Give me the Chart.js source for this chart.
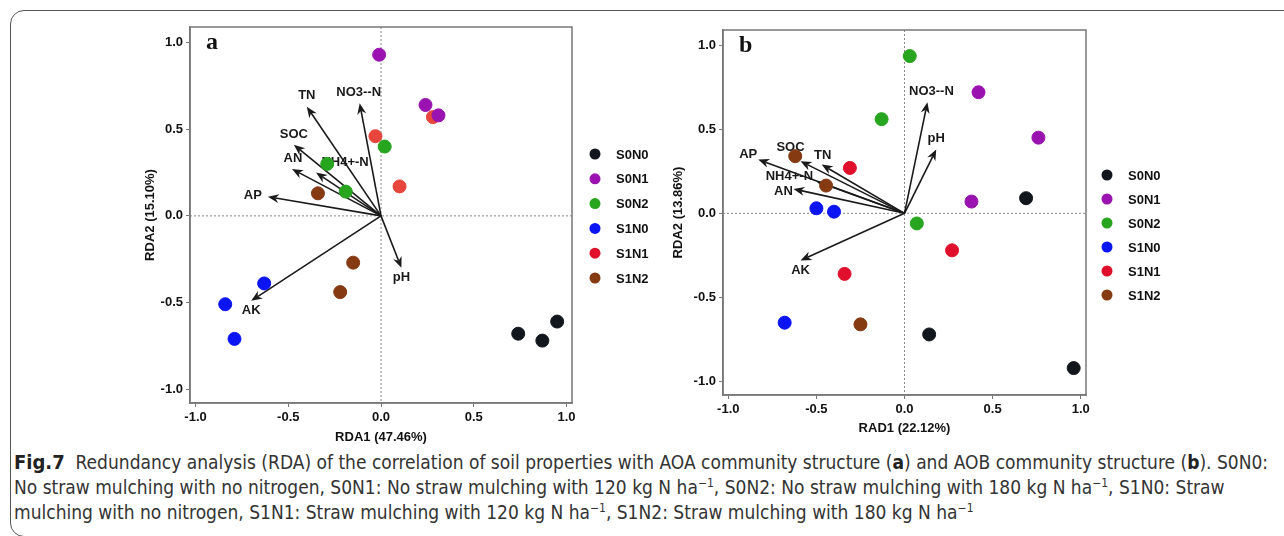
<!DOCTYPE html>
<html>
<head>
<meta charset="utf-8">
<script src="https://cdn.jsdelivr.net/npm/chart.js@4.4.1/dist/chart.umd.min.js"></script>
<style>
  body { margin: 0; background: #fff; width: 1284px; height: 536px; overflow: hidden; position: relative; font-family: "Liberation Sans", Arial, sans-serif; }
  #frame { position: absolute; left: 10px; top: 10px; width: 1300px; height: 527px; border: 1.5px solid #555; border-radius: 14px; box-sizing: border-box; }
  .cv { position: absolute; }
  #caption { position: absolute; left: 14px; top: 450px; font-family: "Liberation Sans Narrow", "DejaVu Sans Condensed", sans-serif; font-size: 19px; line-height: 25px; color: #333; white-space: nowrap; }
  #caption b { color: #222; }
  #caption sup { font-size: 12px; line-height: 0; }
</style>
</head>
<body>
<div id="frame"></div>
<canvas id="chartA" class="cv" style="left:130px;top:15px" width="560" height="430"></canvas>
<canvas id="chartB" class="cv" style="left:660px;top:15px" width="624" height="430"></canvas>
<div id="caption">
  <div><b style="font-size:20px">Fig.7</b>&nbsp; Redundancy analysis (RDA) of the correlation of soil properties with AOA community structure (<b>a</b>) and AOB community structure (<b>b</b>). S0N0:</div>
  <div>No straw mulching with no nitrogen, S0N1: No straw mulching with 120 kg N ha<sup>&minus;1</sup>, S0N2: No straw mulching with 180 kg N ha<sup>&minus;1</sup>, S1N0: Straw</div>
  <div>mulching with no nitrogen, S1N1: Straw mulching with 120 kg N ha<sup>&minus;1</sup>, S1N2: Straw mulching with 180 kg N ha<sup>&minus;1</sup></div>
</div>
<script>
const groups = ['S0N0', 'S0N1', 'S0N2', 'S1N0', 'S1N1', 'S1N2'];
const axisTicks = [-1, -0.5, 0, 0.5, 1];

// panel a (AOA) sample scores, one row per group
const aSiteX = [
  [0.74, 0.87, 0.95],
  [-0.01, 0.24, 0.31],
  [0.02, -0.29, -0.19],
  [-0.63, -0.84, -0.79],
  [-0.03, 0.28, 0.10],
  [-0.34, -0.15, -0.22]
];
const aSiteY = [
  [-0.68, -0.72, -0.61],
  [0.93, 0.64, 0.58],
  [0.40, 0.30, 0.14],
  [-0.39, -0.51, -0.71],
  [0.46, 0.57, 0.17],
  [0.13, -0.27, -0.44]
];
const aVarNames = ['TN', 'NO3--N', 'SOC', 'AN', 'NH4+-N', 'AP', 'AK', 'pH'];
const aVarX = [-0.40, -0.115, -0.47, -0.48, -0.35, -0.61, -0.70, 0.11];
const aVarY = [0.63, 0.65, 0.41, 0.27, 0.25, 0.11, -0.49, -0.30];

// panel b (AOB) sample scores
const bSiteX = [
  [0.69, 0.14, 0.96],
  [0.42, 0.76, 0.38],
  [0.03, -0.13, 0.07],
  [-0.50, -0.40, -0.68],
  [-0.31, 0.27, -0.34],
  [-0.62, -0.445, -0.25]
];
const bSiteY = [
  [0.09, -0.72, -0.92],
  [0.72, 0.45, 0.07],
  [0.935, 0.56, -0.06],
  [0.03, 0.01, -0.65],
  [0.27, -0.22, -0.36],
  [0.34, 0.165, -0.66]
];
const bVarNames = ['NO3--N', 'pH', 'AP', 'SOC', 'TN', 'NH4+-N', 'AN', 'AK'];
const bVarX = [0.13, 0.18, -0.83, -0.59, -0.47, -0.50, -0.63, -0.59];
const bVarY = [0.66, 0.38, 0.32, 0.31, 0.29, 0.19, 0.145, -0.28];

const FONT = '"Liberation Sans", Arial, sans-serif';
const legendColors = ['#12171e', '#9a12b0', '#27a51f', '#0b14f2', '#e0102c', '#853a12'];
const aPointColors = ['#12171e', '#9a12b0', '#27a51f', '#0b14f2', '#e8463c', '#853a12'];

// label offsets from arrow tip, px
const aLabelOff = { 'TN': [0, -11], 'NO3--N': [-1, -11], 'SOC': [0, -10], 'AN': [1, -11],
  'NH4+-N': [29, -10], 'AP': [-15, -1], 'AK': [0, 10], 'pH': [0, 10] };
const bLabelOff = { 'NO3--N': [4, -11], 'pH': [0, -11], 'AP': [-10, -5], 'SOC': [-10, -14],
  'TN': [1, -9], 'NH4+-N': [-27, -5], 'AN': [-10, 2], 'AK': [0, 10] };

function drawArrow(ctx, x0, y0, x1, y1) {
  const ang = Math.atan2(y1 - y0, x1 - x0);
  const len = 11, half = 4.5;
  ctx.beginPath();
  ctx.moveTo(x0, y0);
  ctx.lineTo(x1 - Math.cos(ang) * len * 0.7, y1 - Math.sin(ang) * len * 0.7);
  ctx.stroke();
  ctx.beginPath();
  ctx.moveTo(x1, y1);
  ctx.lineTo(x1 - Math.cos(ang) * len - Math.sin(ang) * half, y1 - Math.sin(ang) * len + Math.cos(ang) * half);
  ctx.lineTo(x1 - Math.cos(ang) * len * 0.7, y1 - Math.sin(ang) * len * 0.7);
  ctx.lineTo(x1 - Math.cos(ang) * len + Math.sin(ang) * half, y1 - Math.sin(ang) * len - Math.cos(ang) * half);
  ctx.closePath();
  ctx.fill();
}

function makeChart(id, opts) {
  const datasets = groups.map((g, i) => ({
    label: g,
    data: opts.siteX[i].map((x, j) => ({ x: x, y: opts.siteY[i][j] })),
    backgroundColor: opts.pointColors[i],
    borderColor: opts.pointColors[i],
    pointRadius: 6.5,
    pointHoverRadius: 6.5
  }));

  const rdaPlugin = {
    id: 'rda',
    beforeDatasetsDraw(chart) {
      const { ctx, chartArea: a, scales: { x, y } } = chart;
      const x0 = x.getPixelForValue(0), y0 = y.getPixelForValue(0);
      ctx.save();
      // dotted zero lines
      ctx.strokeStyle = '#888';
      ctx.lineWidth = 1;
      ctx.setLineDash([2, 2]);
      ctx.beginPath();
      ctx.moveTo(a.left, y0); ctx.lineTo(a.right, y0);
      ctx.moveTo(x0, a.top); ctx.lineTo(x0, a.bottom);
      ctx.stroke();
      ctx.setLineDash([]);
      // environmental arrows
      ctx.strokeStyle = '#1a1a1a';
      ctx.fillStyle = '#1a1a1a';
      ctx.lineWidth = 1.6;
      opts.varNames.forEach((n, i) => {
        drawArrow(ctx, x0, y0, x.getPixelForValue(opts.varX[i]), y.getPixelForValue(opts.varY[i]));
      });
      ctx.font = 'bold 13px ' + FONT;
      ctx.textAlign = 'center';
      ctx.textBaseline = 'middle';
      opts.varNames.forEach((n, i) => {
        const off = opts.labelOff[n];
        ctx.fillText(n, x.getPixelForValue(opts.varX[i]) + off[0], y.getPixelForValue(opts.varY[i]) + off[1]);
      });
      ctx.restore();
    },
    afterDraw(chart) {
      const { ctx, chartArea: a } = chart;
      ctx.save();
      ctx.strokeStyle = '#777';
      ctx.lineWidth = 1.5;
      ctx.strokeRect(a.left, a.top, a.right - a.left, a.bottom - a.top);
      // panel letter
      ctx.fillStyle = '#111';
      ctx.font = 'bold 24px "Liberation Serif", "Times New Roman", serif';
      ctx.textAlign = 'left';
      ctx.textBaseline = 'middle';
      ctx.fillText(opts.letter, a.left + 16, a.top + 16);
      // legend
      ctx.font = 'bold 13px ' + FONT;
      groups.forEach((g, i) => {
        const ly = opts.legendY + i * opts.legendGap;
        ctx.fillStyle = legendColors[i];
        ctx.beginPath();
        ctx.arc(opts.legendX, ly, 5.5, 0, Math.PI * 2);
        ctx.fill();
        ctx.fillStyle = '#111';
        ctx.fillText(g, opts.legendX + 21, ly + 1);
      });
      ctx.restore();
    }
  };

  const tickFont = { family: FONT, size: 13, weight: 'bold' };
  return new Chart(document.getElementById(id), {
    type: 'scatter',
    data: { datasets: datasets },
    plugins: [rdaPlugin],
    options: {
      responsive: false,
      animation: false,
      events: [],
      layout: { padding: opts.padding },
      plugins: { legend: { display: false }, tooltip: { enabled: false } },
      scales: {
        x: {
          type: 'linear', min: -1.03, max: 1.03,
          afterBuildTicks: s => { s.ticks = axisTicks.map(v => ({ value: v })); },
          afterFit: s => { s.height = opts.xHeight; },
          ticks: { font: tickFont, color: '#111', padding: 3, maxRotation: 0, autoSkip: false, callback: v => v.toFixed(1) },
          grid: { drawOnChartArea: false, tickLength: 4, color: '#777' },
          border: { color: '#777', width: 1.5 },
          title: { display: true, text: opts.xTitle, font: tickFont, color: '#111', padding: { top: 0, bottom: opts.xTitleBottom } }
        },
        y: {
          type: 'linear', min: -1.08, max: 1.09,
          afterBuildTicks: s => { s.ticks = axisTicks.map(v => ({ value: v })); },
          afterFit: s => { s.width = opts.yWidth; },
          ticks: { font: tickFont, color: '#111', padding: 3, autoSkip: false, callback: v => v.toFixed(1) },
          grid: { drawOnChartArea: false, tickLength: 4, color: '#777' },
          border: { color: '#777', width: 1.5 },
          title: { display: true, text: opts.yTitle, font: tickFont, color: '#111', padding: { top: opts.yTitlePad, bottom: 0 } }
        }
      }
    }
  });
}

makeChart('chartA', {
  siteX: aSiteX, siteY: aSiteY, pointColors: aPointColors,
  varNames: aVarNames, varX: aVarX, varY: aVarY, labelOff: aLabelOff,
  letter: 'a', xTitle: 'RDA1 (47.46%)', yTitle: 'RDA2 (15.10%)',
  padding: { top: 12, right: 118, left: 0, bottom: 0 },
  xHeight: 42, yWidth: 60, xTitleBottom: 0, yTitlePad: 13,
  legendX: 465, legendY: 139, legendGap: 24.8
});

makeChart('chartB', {
  siteX: bSiteX, siteY: bSiteY, pointColors: legendColors,
  varNames: bVarNames, varX: bVarX, varY: bVarY, labelOff: bLabelOff,
  letter: 'b', xTitle: 'RAD1 (22.12%)', yTitle: 'RDA2 (13.86%)',
  padding: { top: 15, right: 198, left: 0, bottom: 0 },
  xHeight: 50, yWidth: 63, xTitleBottom: 9, yTitlePad: 11,
  legendX: 447, legendY: 160, legendGap: 24
});
</script>
</body>
</html>
